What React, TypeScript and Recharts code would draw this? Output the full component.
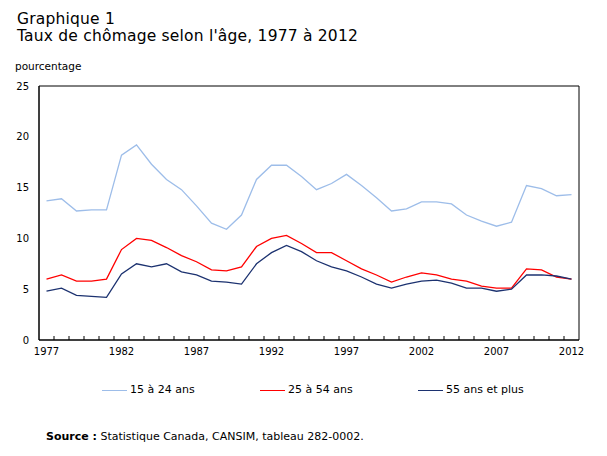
import { Line, LineChart, ReferenceArea, XAxis, YAxis } from "recharts";

const years = [
  1977, 1978, 1979, 1980, 1981, 1982, 1983, 1984, 1985, 1986, 1987, 1988,
  1989, 1990, 1991, 1992, 1993, 1994, 1995, 1996, 1997, 1998, 1999, 2000,
  2001, 2002, 2003, 2004, 2005, 2006, 2007, 2008, 2009, 2010, 2011, 2012,
];

const youth = [
  13.7, 13.9, 12.7, 12.8, 12.8, 18.2, 19.2, 17.3, 15.8, 14.8, 13.2, 11.5,
  10.9, 12.3, 15.8, 17.2, 17.2, 16.1, 14.8, 15.4, 16.3, 15.2, 14.0, 12.7,
  12.9, 13.6, 13.6, 13.4, 12.3, 11.7, 11.2, 11.6, 15.2, 14.9, 14.2, 14.3,
];

const coreAge = [
  6.0, 6.4, 5.8, 5.8, 6.0, 8.9, 10.0, 9.8, 9.1, 8.3, 7.7, 6.9,
  6.8, 7.2, 9.2, 10.0, 10.3, 9.5, 8.6, 8.6, 7.8, 7.0, 6.4, 5.7,
  6.2, 6.6, 6.4, 6.0, 5.8, 5.3, 5.1, 5.1, 7.0, 6.9, 6.2, 6.0,
];

const older = [
  4.8, 5.1, 4.4, 4.3, 4.2, 6.5, 7.5, 7.2, 7.5, 6.7, 6.4, 5.8,
  5.7, 5.5, 7.5, 8.6, 9.3, 8.7, 7.8, 7.2, 6.8, 6.2, 5.5, 5.1,
  5.5, 5.8, 5.9, 5.6, 5.1, 5.1, 4.8, 5.0, 6.4, 6.4, 6.3, 6.0,
];

const yearLabels = [1977, 1982, 1987, 1992, 1997, 2002, 2007, 2012];
const yTicks = [0, 5, 10, 15, 20, 25];

const series = [
  { key: "youth", name: "15 à 24 ans", color: "#9dbde9" },
  { key: "coreAge", name: "25 à 54 ans", color: "#ff0000" },
  { key: "older", name: "55 ans et plus", color: "#1c3270" },
];

const data = years.map((year, i) => ({
  year,
  youth: youth[i],
  coreAge: coreAge[i],
  older: older[i],
}));

// tick marks sit between the years, like a category axis
const boundaries = years.slice(1).map((y) => y - 0.5);
const xTicks = [...yearLabels, ...boundaries].sort((a, b) => a - b);
const xDomain = [years[0] - 0.5, years[years.length - 1] + 0.5];

const FONT = "'DejaVu Sans', Verdana, sans-serif";
const tickStyle = { fontFamily: FONT, fontSize: 10, fill: "#000" };

const XTick = (props: any) => {
  const { x, y, payload } = props;
  const axisY = y - 8;
  if (!Number.isInteger(payload.value)) {
    return <line x1={x} x2={x} y1={axisY} y2={axisY - 4} stroke="#000" />;
  }
  return (
    <text x={x} y={y} dy="0.71em" textAnchor="middle" {...tickStyle}>
      {payload.value}
    </text>
  );
};

export default function App() {
  return (
    <div
      style={{
        position: "absolute",
        left: 0,
        top: 0,
        width: 607,
        height: 456,
        background: "#fff",
        fontFamily: FONT,
        color: "#000",
      }}
    >
      <div
        style={{
          position: "absolute",
          left: 17,
          top: 11,
          fontSize: 15.5,
          lineHeight: "17px",
          letterSpacing: 0.2,
          whiteSpace: "nowrap",
        }}
      >
        <div>Graphique 1</div>
        <div>Taux de chômage selon l'âge, 1977 à 2012</div>
      </div>
      <div
        style={{
          position: "absolute",
          left: 15,
          top: 60,
          fontSize: 10.5,
          lineHeight: "12px",
        }}
      >
        pourcentage
      </div>

      <LineChart
        width={607}
        height={456}
        data={data}
        margin={{ top: 86, right: 28, bottom: 96, left: 9 }}
      >
        <XAxis
          dataKey="year"
          type="number"
          domain={xDomain}
          ticks={xTicks}
          interval={0}
          tickLine={false}
          axisLine={{ stroke: "#000" }}
          tick={<XTick />}
          height={20}
        />
        <YAxis
          domain={[0, 25]}
          ticks={yTicks}
          interval={0}
          tickLine={false}
          tickMargin={4}
          axisLine={{ stroke: "#000" }}
          tick={tickStyle}
          width={30}
        />
        <ReferenceArea
          x1={xDomain[0]}
          x2={xDomain[1]}
          y1={0}
          y2={25}
          fill="none"
          stroke="#000"
          ifOverflow="visible"
        />
        {series.map((s) => (
          <Line
            key={s.key}
            type="linear"
            dataKey={s.key}
            name={s.name}
            stroke={s.color}
            strokeWidth={1.3}
            dot={false}
            activeDot={false}
            isAnimationActive={false}
          />
        ))}
      </LineChart>

      <div
        style={{
          position: "absolute",
          left: 102,
          top: 383,
          display: "flex",
          fontSize: 11,
          lineHeight: "14px",
        }}
      >
        {series.map((s) => (
          <div
            key={s.key}
            style={{ width: 158, display: "flex", alignItems: "center" }}
          >
            <span
              style={{
                display: "inline-block",
                width: 25,
                height: 0,
                borderTop: `1.5px solid ${s.color}`,
                marginRight: 3,
              }}
            />
            <span>{s.name}</span>
          </div>
        ))}
      </div>

      <div
        style={{
          position: "absolute",
          left: 46,
          top: 430,
          fontSize: 11,
          lineHeight: "13px",
          whiteSpace: "nowrap",
        }}
      >
        <b>Source :</b> Statistique Canada, CANSIM, tableau 282-0002.
      </div>
    </div>
  );
}
